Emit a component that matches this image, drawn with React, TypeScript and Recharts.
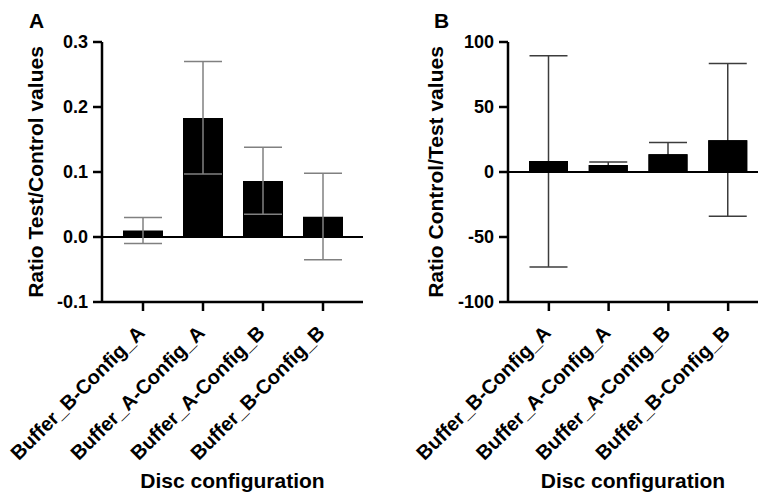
import { BarChart, Bar, XAxis, YAxis, ErrorBar, ReferenceLine } from 'recharts';

const categories = ['Buffer_B-Config_A', 'Buffer_A-Config_A', 'Buffer_A-Config_B', 'Buffer_B-Config_B'];

// panel A: ratio test/control
const meanA = [0.01, 0.183, 0.086, 0.031];
const lowA = [-0.01, 0.097, 0.035, -0.035];
const highA = [0.03, 0.27, 0.138, 0.098];
const ticksA = [-0.1, 0, 0.1, 0.2, 0.3];

// panel B: ratio control/test
const meanB = [8.5, 5.4, 13.7, 24.5];
const lowB = [-73, 3, 5, -34];
const highB = [89.5, 7.7, 22.7, 83.5];
const ticksB = [-100, -50, 0, 50, 100];

const FONT = '"Liberation Sans", Arial, sans-serif';

function build(mean: number[], low: number[], high: number[]) {
  return categories.map((name, i) => ({
    name,
    value: mean[i],
    err: [mean[i] - low[i], high[i] - mean[i]],
  }));
}

const dataA = build(meanA, lowA, highA);
const dataB = build(meanB, lowB, highB);

function RotatedTick(props: any) {
  const { x, y, payload } = props;
  return (
    <g transform={`translate(${x + 3},${y + 21})`}>
      <text
        x={0}
        y={0}
        textAnchor="end"
        transform="rotate(-45)"
        fill="#000"
        fontFamily={FONT}
        fontWeight="bold"
        fontSize={20}
      >
        {payload.value}
      </text>
    </g>
  );
}

interface PanelProps {
  data: ReturnType<typeof build>;
  ticks: number[];
  fmt: (v: number) => string;
  letter: string;
  letterX: number;
  yTitle: string;
  yTitleX: number;
  axisWidth: number;
  rightMargin: number;
  padRight: number;
  barSize: number;
  errColor: string;
  errBehind: boolean;
}

function Panel(p: PanelProps) {
  const pad = { left: 11, right: p.padRight };
  return (
    <BarChart
      width={378}
      height={495}
      data={p.data}
      margin={{ top: 42, right: p.rightMargin, left: 0, bottom: 0 }}
    >
      <text x={p.letterX} y={28} fontFamily={FONT} fontWeight="bold" fontSize={21} fill="#000">
        {p.letter}
      </text>
      <XAxis
        dataKey="name"
        interval={0}
        height={193}
        tickSize={9}
        tickLine={{ stroke: '#000', strokeWidth: 2.5 }}
        axisLine={{ stroke: '#000', strokeWidth: 2.5 }}
        padding={pad}
        tick={<RotatedTick />}
        label={({ viewBox }: any) => (
          <text
            x={viewBox.x + viewBox.width / 2}
            y={viewBox.y + 186}
            textAnchor="middle"
            fontFamily={FONT}
            fontWeight="bold"
            fontSize={21}
            fill="#000"
          >
            Disc configuration
          </text>
        )}
      />
      {/* hidden copy of the category axis, used by the cover bar in panel B */}
      <XAxis xAxisId="cover" dataKey="name" hide padding={pad} />
      <YAxis
        width={p.axisWidth}
        domain={[p.ticks[0], p.ticks[p.ticks.length - 1]]}
        ticks={p.ticks}
        interval={0}
        tickSize={9}
        tickMargin={5}
        tickFormatter={p.fmt}
        tick={{ fill: '#000', fontSize: 18, fontWeight: 'bold', fontFamily: FONT }}
        tickLine={{ stroke: '#000', strokeWidth: 2.5 }}
        axisLine={{ stroke: '#000', strokeWidth: 2.5 }}
        label={({ viewBox }: any) => {
          const cy = viewBox.y + viewBox.height / 2;
          return (
            <text
              x={p.yTitleX}
              y={cy}
              textAnchor="middle"
              transform={`rotate(-90, ${p.yTitleX}, ${cy})`}
              fontFamily={FONT}
              fontWeight="bold"
              fontSize={21}
              fill="#000"
            >
              {p.yTitle}
            </text>
          );
        }}
      />
      <ReferenceLine y={0} stroke="#000" strokeWidth={2} />
      <Bar dataKey="value" fill="#000" barSize={p.barSize} isAnimationActive={false}>
        <ErrorBar
          dataKey="err"
          width={19}
          stroke={p.errColor}
          strokeWidth={1.5}
          isAnimationActive={false}
          {...(p.errBehind ? { zIndex: 100 } : {})}
        />
      </Bar>
      {p.errBehind && (
        <Bar
          xAxisId="cover"
          dataKey="value"
          fill="#000"
          barSize={p.barSize}
          isAnimationActive={false}
        />
      )}
    </BarChart>
  );
}

export default function App() {
  return (
    <div style={{ position: 'absolute', left: 0, top: 0, width: 758, height: 495, background: '#fff' }}>
      <div style={{ position: 'absolute', left: 0, top: 0 }}>
        <Panel
          data={dataA}
          ticks={ticksA}
          fmt={(v) => v.toFixed(1)}
          letter="A"
          letterX={29}
          yTitle="Ratio Test/Control values"
          yTitleX={43}
          axisWidth={102}
          rightMargin={15}
          padRight={10}
          barSize={40}
          errColor="#808080"
          errBehind={false}
        />
      </div>
      <div style={{ position: 'absolute', left: 380, top: 0 }}>
        <Panel
          data={dataB}
          ticks={ticksB}
          fmt={(v) => String(v)}
          letter="B"
          letterX={54}
          yTitle="Ratio Control/Test values"
          yTitleX={63}
          axisWidth={128}
          rightMargin={0}
          padRight={0}
          barSize={39}
          errColor="#3c3c3c"
          errBehind={true}
        />
      </div>
    </div>
  );
}
